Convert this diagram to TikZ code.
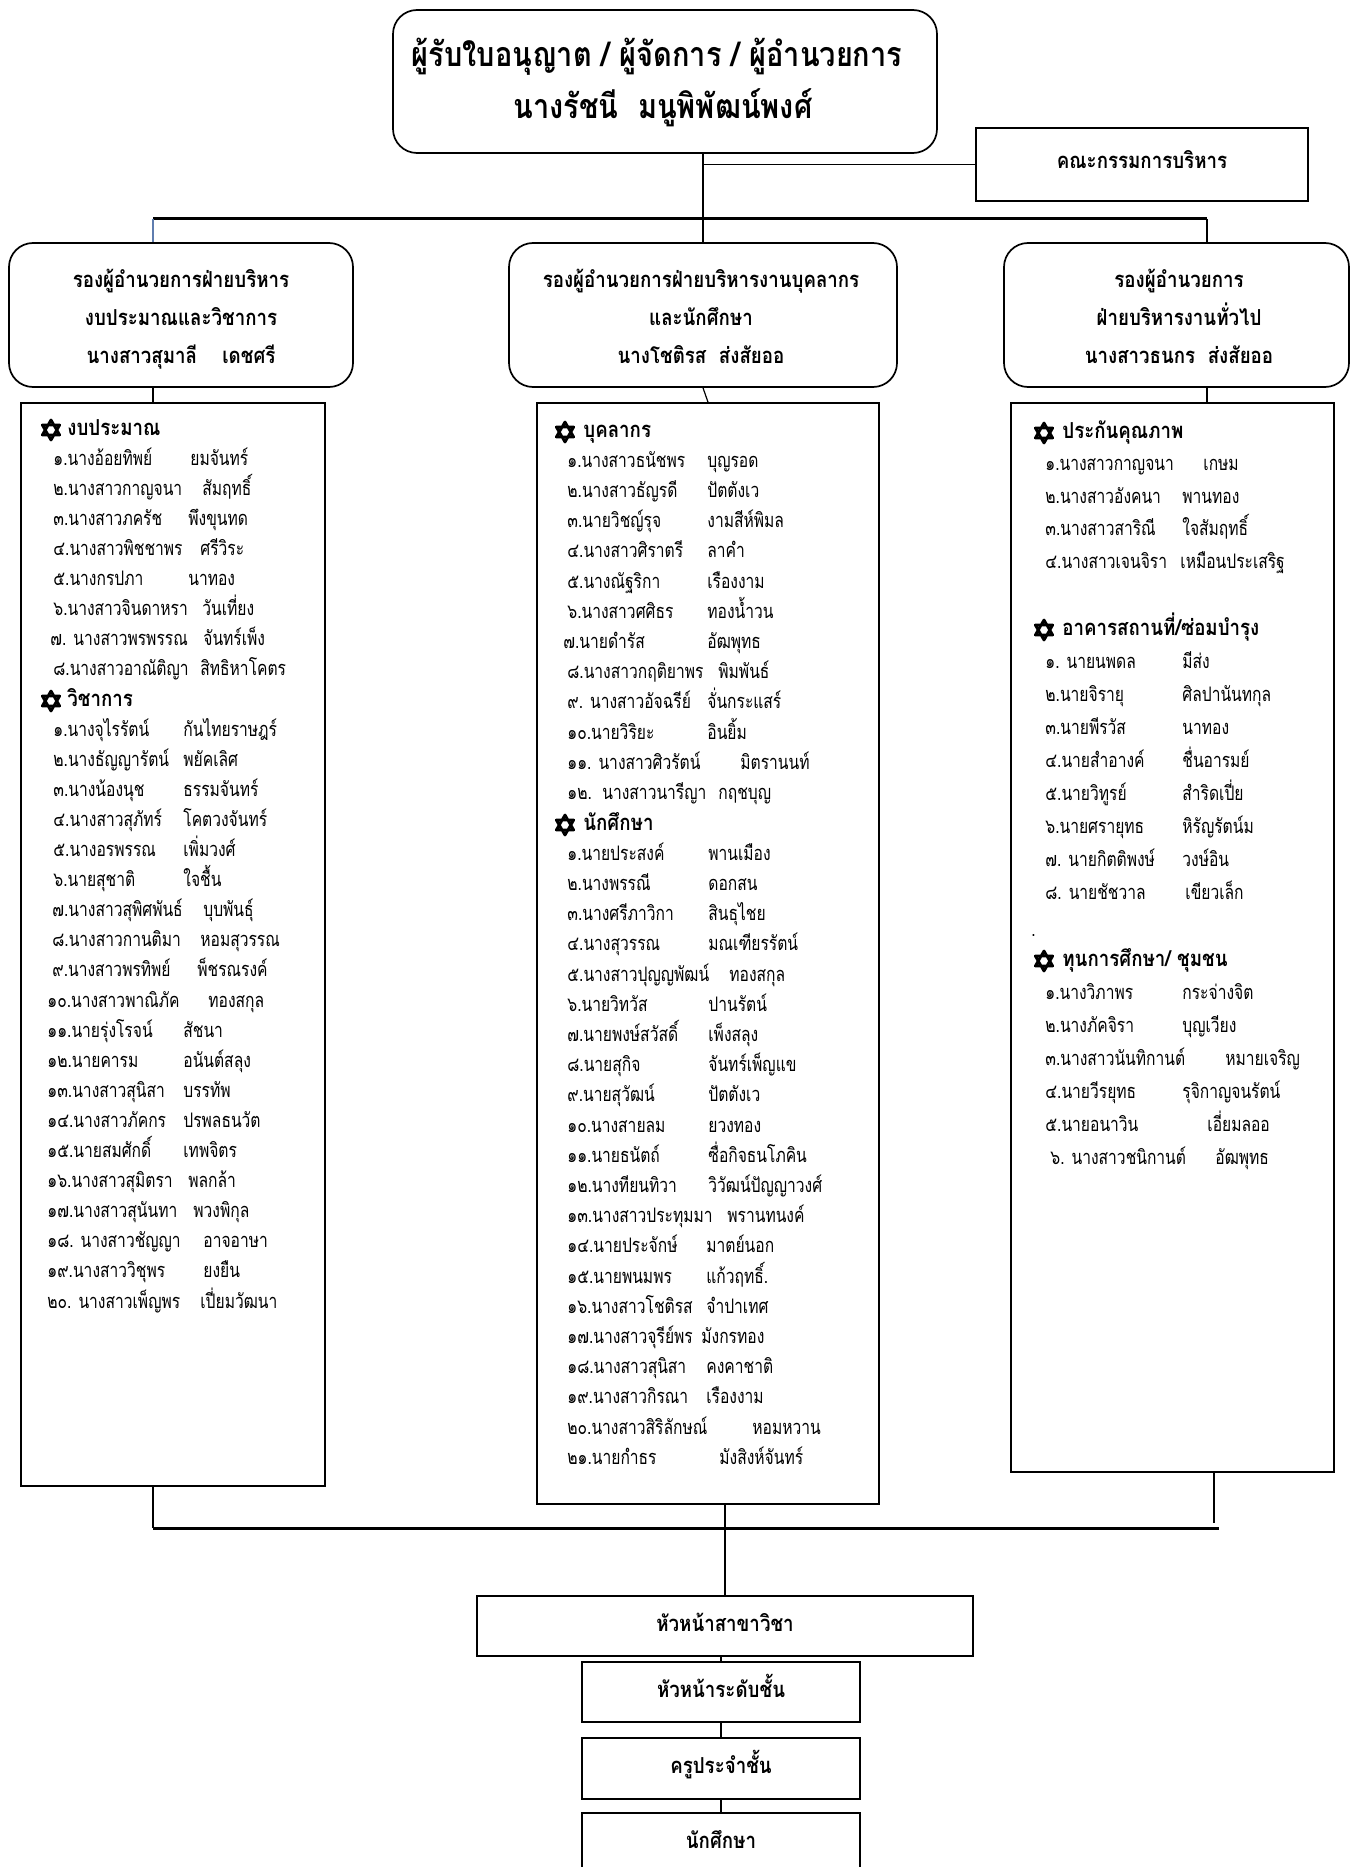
\documentclass[tikz,border=0pt]{standalone}
\usepackage{fontspec}
\setmainfont[Script=Thai]{Loma}
\newfontfamily\narrowthai[Script=Thai, FakeStretch=0.78]{Loma}
\newfontfamily\headthai[Script=Thai, FakeStretch=0.85]{Loma}
\usetikzlibrary{fit}
\definecolor{linkblue}{RGB}{95,125,175}

\tikzset{
  box/.style={draw, line width=0.85pt, inner sep=0pt},
  rbox/.style={box, rounded corners=12pt},
  bus/.style={line width=1.5pt},
  link/.style={line width=0.6pt},
  ttl/.style={anchor=base, inner sep=0pt, font=\headthai\fontsize{17}{20}\selectfont\bfseries},
  hdr/.style={anchor=base, inner sep=0pt, font=\headthai\fontsize{11}{13}\selectfont\bfseries},
  grp/.style={anchor=base west, inner sep=0pt, font=\headthai\fontsize{11}{13}\selectfont\bfseries},
  itm/.style={anchor=base west, inner sep=0pt, font=\narrowthai\fontsize{10}{12}\selectfont},
  hexstar/.style={minimum size=13pt, inner sep=0pt, path picture={
    \coordinate (hc) at (path picture bounding box.center);
    \draw[line width=1.4pt, line join=round]
      ([shift={(90:5pt)}]hc) -- ([shift={(210:5pt)}]hc) -- ([shift={(330:5pt)}]hc) -- cycle
      ([shift={(270:5pt)}]hc) -- ([shift={(30:5pt)}]hc) -- ([shift={(150:5pt)}]hc) -- cycle;}},
}

\begin{document}
\begin{tikzpicture}[x=0.5pt, y=-0.5pt]
  \useasboundingbox (0,0) rectangle (1351,1867);

  % top
  \node[rbox, fit={(393,10) (937,153)}] (top) {};
  \node[ttl] (t1) at (657,67) {ผู้รับใบอนุญาต / ผู้จัดการ / ผู้อำนวยการ};
  \node[ttl] (t2) at (663,119) {นางรัชนี\ \ มนูพิพัฒน์พงศ์};
  \node[box, fit={(976,128) (1308,201)}] (comm) {};
  \node[hdr] (c1) at (1142,169) {คณะกรรมการบริหาร};

  % deputies
  \node[rbox, fit={(9,243) (353,387)}] (hL) {};
  \node[rbox, fit={(509,243) (897,387)}] (hM) {};
  \node[rbox, fit={(1004,243) (1349,387)}] (hR) {};
  \node[hdr] (hL1) at (181,287) {รองผู้อำนวยการฝ่ายบริหาร};
  \node[hdr] (hL2) at (181,325) {งบประมาณและวิชาการ};
  \node[hdr] (hL3) at (181,363) {นางสาวสุมาลี\ \ \ \ เดชศรี};
  \node[hdr] (hM1) at (701,287) {รองผู้อำนวยการฝ่ายบริหารงานบุคลากร};
  \node[hdr] (hM2) at (701,325) {และนักศึกษา};
  \node[hdr] (hM3) at (701,363) {นางโชติรส\ \ ส่งสัยออ};
  \node[hdr] (hR1) at (1179,287) {รองผู้อำนวยการ};
  \node[hdr] (hR2) at (1179,325) {ฝ่ายบริหารงานทั่วไป};
  \node[hdr] (hR3) at (1179,363) {นางสาวธนกร\ \ ส่งสัยออ};

  % lists
  \node[box, fit={(21,403) (325,1486)}] (lL) {};
  \node[box, fit={(537,403) (879,1504)}] (lM) {};
  \node[box, fit={(1011,403) (1334,1472)}] (lR) {};

  % bottom chain
  \node[box, fit={(477,1596) (973,1656)}] (b1) {};
  \node[box, fit={(582,1662) (860,1722)}] (b2) {};
  \node[box, fit={(582,1738) (860,1799)}] (b3) {};
  \node[box, fit={(582,1813) (860,1885)}] (b4) {};
  \node[hdr] (b1t) at (725,1631) {หัวหน้าสาขาวิชา};
  \node[hdr] (b2t) at (721,1697) {หัวหน้าระดับชั้น};
  \node[hdr] (b3t) at (721,1773) {ครูประจำชั้น};
  \node[hdr] (b4t) at (721,1848) {นักศึกษา};

  % connectors
  \coordinate (busL) at (153,219);
  \coordinate (busR) at (1207,219);
  \coordinate (botL) at (153,1528);
  \coordinate (botR) at (1219,1528);
  \coordinate (botE) at (1214,1523);
  \draw[link] (hM.north |- top.south) -- (hM.north);
  \draw[link] (hM.north |- comm.west) -- (comm.west);
  \draw[bus] (busL) -- (busR);
  \draw[link, linkblue] (busL) -- (busL |- hL.north);
  \draw[link] (busR) -- (busR |- hR.north);
  \draw[link] (hL.south -| busL) -- (lL.north -| busL);
  \draw[link] (hM.south) -- (lM.north);
  \draw[link] (hR.south -| busR) -- (lR.north -| busR);
  \draw[bus] (botL) -- (botR);
  \draw[link] (lL.south -| botL) -- (botL);
  \draw[link] (lR.south -| botE) -- (botE);
  \draw[link] (lM.south -| b1.north) -- (b1.north);
  \draw[link] (b1.south -| b2.north) -- (b2.north);
  \draw[link] (b2.south) -- (b3.north);
  \draw[link] (b3.south) -- (b4.north);

  % left list
  \node[hexstar] (sL1) at (51,430) {};
  \node[grp] (gL1) at (67,435) {งบประมาณ};
  \foreach \xa/\a/\xb/\b [count=\i] in {
    53/๑.นางอ้อยทิพย์/190/ยมจันทร์,
    53/๒.นางสาวกาญจนา/202/สัมฤทธิ์,
    53/๓.นางสาวภครัช/188/พึงขุนทด,
    53/๔.นางสาวพิชชาพร/200/ศรีวิระ,
    53/๕.นางกรปภา/188/นาทอง,
    53/๖.นางสาวจินดาหรา/202/วันเที่ยง,
    50/๗. นางสาวพรพรรณ/203/จันทร์เพ็ง,
    53/๘.นางสาวอาณัติญา/200/สิทธิหาโคตร}{
    \node[itm] (L1a\i) at (\xa,{435+\i*30.1}) {\a};
    \node[itm] (L1b\i) at (\xb,{435+\i*30.1}) {\b};
  }
  \node[hexstar] (sL2) at (51,701) {};
  \node[grp] (gL2) at (67,706) {วิชาการ};
  \foreach \xa/\a/\xb/\b [count=\i] in {
    53/๑.นางจุไรรัตน์/183/กันไทยราษฎร์,
    53/๒.นางธัญญารัตน์/183/พยัคเลิศ,
    53/๓.นางน้องนุช/183/ธรรมจันทร์,
    53/๔.นางสาวสุภัทร์/183/โคตวงจันทร์,
    53/๕.นางอรพรรณ/183/เพิ่มวงศ์,
    53/๖.นายสุชาติ/183/ใจชื้น,
    52/๗.นางสาวสุพิศพันธ์/203/บุบพันธุ์,
    52/๘.นางสาวกานติมา/200/หอมสุวรรณ,
    52/๙.นางสาวพรทิพย์/197/พ็ชรณรงค์,
    47/๑๐.นางสาวพาณิภัค/208/ทองสกุล,
    47/๑๑.นายรุ่งโรจน์/183/สัชนา,
    47/๑๒.นายคารม/183/อนันต์สลุง,
    47/๑๓.นางสาวสุนิสา/183/บรรทัพ,
    47/๑๔.นางสาวภัคกร/183/ปรพลธนวัต,
    47/๑๕.นายสมศักดิ์/183/เทพจิตร,
    47/๑๖.นางสาวสุมิตรา/188/พลกล้า,
    47/๑๗.นางสาวสุนันทา/193/พวงพิกุล,
    47/๑๘. นางสาวชัญญา/203/อาจอาษา,
    47/๑๙.นางสาววิชุพร/203/ยงยืน,
    47/๒๐. นางสาวเพ็ญพร/200/เปี่ยมวัฒนา}{
    \node[itm] (L2a\i) at (\xa,{706+\i*30.1}) {\a};
    \node[itm] (L2b\i) at (\xb,{706+\i*30.1}) {\b};
  }

  % middle list
  \node[hexstar] (sM1) at (565,432) {};
  \node[grp] (gM1) at (583,437) {บุคลากร};
  \foreach \xa/\a/\xb/\b [count=\i] in {
    567/๑.นางสาวธนัชพร/707/บุญรอด,
    567/๒.นางสาวธัญรดี/707/ปัตตังเว,
    567/๓.นายวิชญ์รุจ/707/งามสีห์พิมล,
    567/๔.นางสาวศิราตรี/707/ลาคำ,
    567/๕.นางณัฐริกา/707/เรืองงาม,
    567/๖.นางสาวศศิธร/707/ทองน้ำวน,
    563/๗.นายดำรัส/707/อัฒพุทธ,
    567/๘.นางสาวกฤติยาพร/718/พิมพันธ์,
    567/๙. นางสาวอัจฉรีย์/707/จั่นกระแสร์,
    567/๑๐.นายวิริยะ/707/อินยิ้ม,
    567/๑๑. นางสาวศิวรัตน์/740/มิตรานนท์,
    567/๑๒.\ \ นางสาวนารีญา/718/กฤชบุญ}{
    \node[itm] (M1a\i) at (\xa,{437+\i*30.2}) {\a};
    \node[itm] (M1b\i) at (\xb,{437+\i*30.2}) {\b};
  }
  \node[hexstar] (sM2) at (565,825) {};
  \node[grp] (gM2) at (583,830) {นักศึกษา};
  \foreach \xa/\a/\xb/\b [count=\i] in {
    567/๑.นายประสงค์/708/พานเมือง,
    567/๒.นางพรรณี/708/ดอกสน,
    567/๓.นางศรีภาวิกา/708/สินธุไชย,
    567/๔.นางสุวรรณ/708/มณเฑียรรัตน์,
    567/๕.นางสาวปุญญพัฒน์/729/ทองสกุล,
    567/๖.นายวิทวัส/708/ปานรัตน์,
    567/๗.นายพงษ์สวัสดิ์/708/เพ็งสลุง,
    567/๘.นายสุกิจ/708/จันทร์เพ็ญแข,
    567/๙.นายสุวัฒน์/708/ปัตตังเว,
    567/๑๐.นางสายลม/708/ยวงทอง,
    567/๑๑.นายธนัตถ์/708/ซื่อกิจธนโภคิน,
    567/๑๒.นางทียนทิวา/708/วิวัฒน์ปัญญาวงศ์,
    567/๑๓.นางสาวประทุมมา/727/พรานทนงค์,
    567/๑๔.นายประจักษ์/706/มาตย์นอก,
    567/๑๕.นายพนมพร/706/แก้วฤทธิ์.,
    567/๑๖.นางสาวโชติรส/706/จำปาเทศ,
    567/๑๗.นางสาวจุรีย์พร/701/มังกรทอง,
    567/๑๘.นางสาวสุนิสา/706/คงคาชาติ,
    567/๑๙.นางสาวกิรณา/706/เรืองงาม,
    567/๒๐.นางสาวสิริลักษณ์/752/หอมหวาน,
    567/๒๑.นายกำธร/719/มังสิงห์จันทร์}{
    \node[itm] (M2a\i) at (\xa,{830+\i*30.2}) {\a};
    \node[itm] (M2b\i) at (\xb,{830+\i*30.2}) {\b};
  }

  % right list
  \node[hexstar] (sR1) at (1044,433) {};
  \node[grp] (gR1) at (1062,438) {ประกันคุณภาพ};
  \foreach \xa/\a/\xb/\b [count=\i] in {
    1045/๑.นางสาวกาญจนา/1203/เกษม,
    1045/๒.นางสาวอังคนา/1182/พานทอง,
    1045/๓.นางสาวสาริณี/1182/ใจสัมฤทธิ์,
    1045/๔.นางสาวเจนจิรา/1180/เหมือนประเสริฐ}{
    \node[itm] (R1a\i) at (\xa,{438+\i*32.5}) {\a};
    \node[itm] (R1b\i) at (\xb,{438+\i*32.5}) {\b};
  }
  \node[hexstar] (sR2) at (1044,630) {};
  \node[grp] (gR2) at (1062,635) {อาคารสถานที่/ซ่อมบำรุง};
  \foreach \xa/\a/\xb/\b [count=\i] in {
    1045/๑. นายนพดล/1182/มีส่ง,
    1045/๒.นายจิรายุ/1182/ศิลปานันทกุล,
    1045/๓.นายพีรวัส/1182/นาทอง,
    1045/๔.นายสำอางค์/1182/ชื่นอารมย์,
    1045/๕.นายวิทูรย์/1182/สำริดเปี่ย,
    1045/๖.นายศรายุทธ/1182/หิรัญรัตน์ม,
    1045/๗. นายกิตติพงษ์/1182/วงษ์อิน,
    1045/๘. นายชัชวาล/1185/เขียวเล็ก}{
    \node[itm] (R2a\i) at (\xa,{635+\i*33}) {\a};
    \node[itm] (R2b\i) at (\xb,{635+\i*33}) {\b};
  }
  \node[itm] (dot) at (1031,936) {.};
  \node[hexstar] (sR3) at (1044,961) {};
  \node[grp] (gR3) at (1062,966) {ทุนการศึกษา/ ชุมชน};
  \foreach \xa/\a/\xb/\b [count=\i] in {
    1045/๑.นางวิภาพร/1182/กระจ่างจิต,
    1045/๒.นางภัคจิรา/1182/บุญเวียง,
    1045/๓.นางสาวนันทิกานต์/1225/หมายเจริญ,
    1045/๔.นายวีรยุทธ/1182/รุจิกาญจนรัตน์,
    1045/๕.นายอนาวิน/1207/เอี่ยมลออ,
    1050/๖. นางสาวชนิกานต์/1215/อัฒพุทธ}{
    \node[itm] (R3a\i) at (\xa,{966+\i*33}) {\a};
    \node[itm] (R3b\i) at (\xb,{966+\i*33}) {\b};
  }
\end{tikzpicture}
\end{document}
